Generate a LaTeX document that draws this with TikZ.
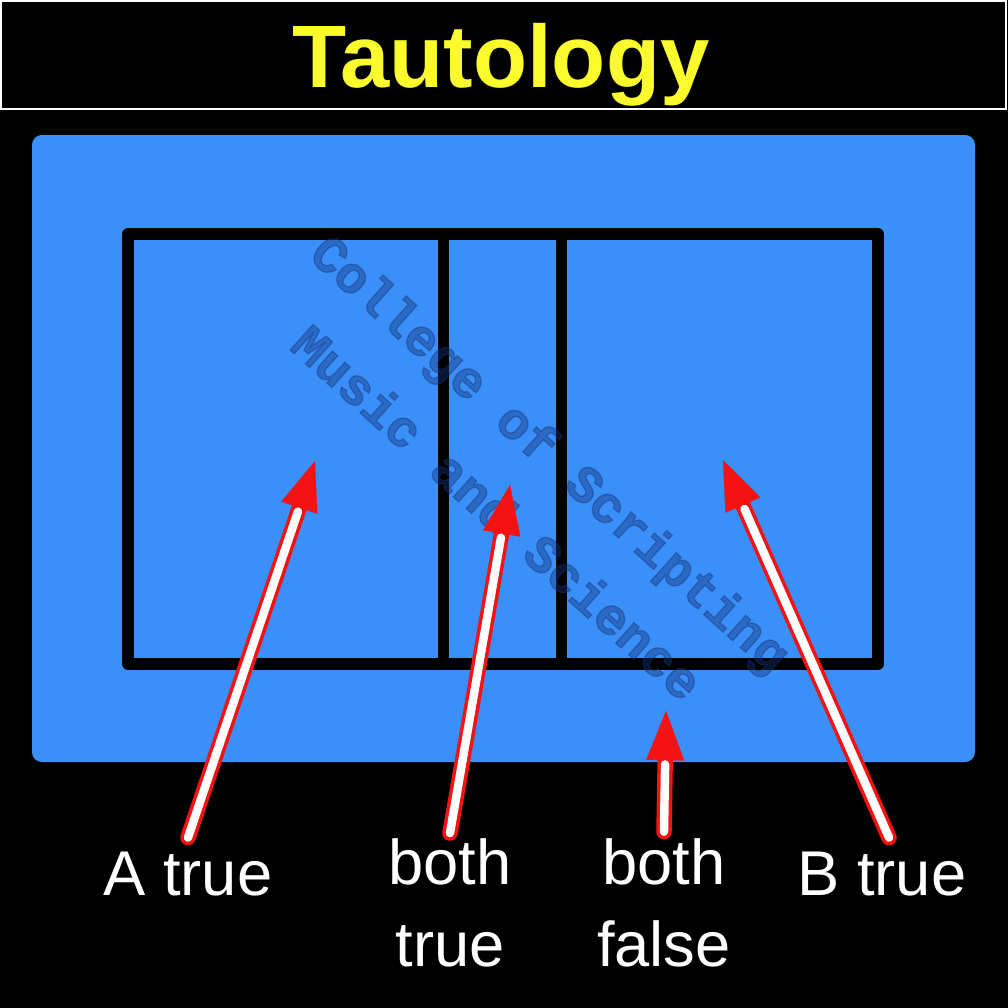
\documentclass[tikz,border=0pt]{standalone}
\usepackage{fontspec}
\setmainfont{Liberation Sans}
\newfontfamily\stampfont[BoldFeatures={FakeBold=2.5}]{Liberation Mono}
\usetikzlibrary{arrows.meta,positioning}
\definecolor{panelblue}{RGB}{58, 143, 248}
\definecolor{stampnavy}{RGB}{20, 50, 120}
\definecolor{titleyellow}{RGB}{250, 250, 45}
\definecolor{arrowred}{RGB}{245, 18, 18}

\begin{document}
\begin{tikzpicture}[x=0.025cm, y=-0.025cm,
    caption/.style={text=white, font=\fontsize{45}{58}\selectfont, align=center, inner sep=0pt},
    frameline/.style={line width=8pt, line join=round, line cap=round},
    pointer outer/.style={draw=arrowred, line width=11pt, line cap=round,
        -{Triangle[length=35pt, width=27pt, line width=0.1pt]}},
    pointer inner/.style={draw=white, line width=6pt, line cap=round, shorten >=38pt}]
        % Page and title bar
        \useasboundingbox[fill=black] (0,0) rectangle (1008,1008);
        \draw[white, line width=1.2pt] (1,1) rectangle (1006,109);
        \node[text=titleyellow, font=\fontsize{63}{70}\selectfont\bfseries] (title) at (501,65) {Tautology};

        % Blue panel
        \fill[panelblue, rounded corners=7pt] (32,135) rectangle (975,762);

        % Regions A and B
        \draw[frameline] (128,234) rectangle (878,664);
        \draw[frameline] (443.5,234) -- (443.5,664);
        \draw[frameline] (561.5,234) -- (561.5,664);

        % Watermark
        \node[rotate=-42, text=stampnavy, opacity=0.4, align=center,
              font=\stampfont\bfseries\fontsize{37}{57}\selectfont] (stamp) at (525,482)
              {College of Scripting\\Music and Science};

        % Labels
        \node[caption] (atrue) at (188,874) {A true};
        \node[caption] (bothtrue) at (450,903) {both\\true};
        \node[caption] (bothfalse) at (664,903) {both\\false};
        \node[caption] (btrue) at (882,874) {B true};

        % Arrow tips
        \coordinate (inA) at (315,461);
        \coordinate (inAB) at (510,485);
        \coordinate (inNone) at (666,711);
        \coordinate (inB) at (723,460);

        % Arrows
        \draw[pointer outer] ([yshift=10pt]atrue.north) -- (inA);
        \draw[pointer inner] ([yshift=10pt]atrue.north) -- (inA);
        \draw[pointer outer] ([yshift=4pt]bothtrue.north) -- (inAB);
        \draw[pointer inner] ([yshift=4pt]bothtrue.north) -- (inAB);
        \draw[pointer outer] ([yshift=5pt]bothfalse.north) -- (inNone);
        \draw[pointer inner] ([yshift=5pt]bothfalse.north) -- (inNone);
        \draw[pointer outer] ([xshift=5pt, yshift=10pt]btrue.north) -- (inB);
        \draw[pointer inner] ([xshift=5pt, yshift=10pt]btrue.north) -- (inB);
\end{tikzpicture}
\end{document}
